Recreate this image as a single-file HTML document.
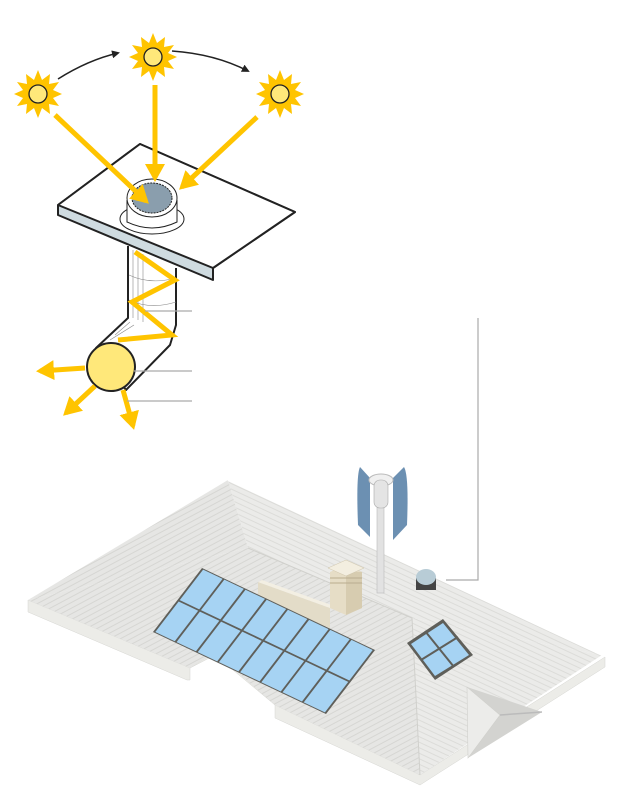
<!DOCTYPE html>
<html><head><meta charset="utf-8"><style>
html,body{margin:0;padding:0;background:#fff;}
svg{display:block;}
</style></head><body>
<svg width="640" height="800" viewBox="0 0 640 800" xmlns="http://www.w3.org/2000/svg">
<defs>
<marker id="ah" markerWidth="8" markerHeight="8" refX="6" refY="4" orient="auto" markerUnits="userSpaceOnUse"><path d="M0,0 L8,4 L0,8 z" fill="#222"/></marker>
<marker id="ya" markerWidth="20" markerHeight="20" refX="14" refY="10" orient="auto" markerUnits="userSpaceOnUse"><path d="M0,0 L18,10 L0,20 z" fill="#ffc400"/></marker>
<pattern id="tiles" width="5" height="5" patternUnits="userSpaceOnUse" patternTransform="rotate(25)"><rect width="5" height="5" fill="#ebebe9"/><rect width="5" height="1" fill="#dcdcd9"/></pattern>
<pattern id="tiles2" width="5" height="5" patternUnits="userSpaceOnUse" patternTransform="rotate(-28)"><rect width="5" height="5" fill="#e6e6e4"/><rect width="5" height="1" fill="#d6d6d3"/></pattern>
<g id="sun">
<polygon points="0,-24 4,-14 12,-20 11,-10 21,-12 15,-4 24,0 15,4 21,12 11,10 12,20 4,14 0,24 -4,14 -12,20 -11,10 -21,12 -15,4 -24,0 -15,-4 -21,-12 -11,-10 -12,-20 -4,-14" fill="#ffc400"/>
<circle r="9" fill="#ffe87a" stroke="#222" stroke-width="1.3"/>
</g>
</defs>

<use href="#sun" x="38" y="94"/>
<use href="#sun" x="153" y="57"/>
<use href="#sun" x="280" y="94"/>
<path d="M58,79 Q88,60 118,53" fill="none" stroke="#222" stroke-width="1.5" marker-end="url(#ah)"/>
<path d="M172,51 Q215,54 248,71" fill="none" stroke="#222" stroke-width="1.5" marker-end="url(#ah)"/>

<polygon points="58,205 140,144 295,212 213,268 213,280 58,215" fill="#cfdbe0" stroke="#222" stroke-width="2" stroke-linejoin="round"/>
<polygon points="58,205 140,144 295,212 213,268" fill="#fff" stroke="#222" stroke-width="2" stroke-linejoin="round"/>
<line x1="213" y1="268" x2="213" y2="280" stroke="#222" stroke-width="1.5"/>
<ellipse cx="152" cy="219" rx="32" ry="15" fill="#fff" stroke="#222" stroke-width="1"/>
<path d="M127,200 L127,222 Q152,234 177,222 L177,200" fill="#fff" stroke="#222" stroke-width="1"/>
<ellipse cx="152" cy="198" rx="25" ry="19" fill="#fff" stroke="#222" stroke-width="1"/>
<ellipse cx="152" cy="198" rx="20" ry="15" fill="#8a9ead" stroke="#222" stroke-width="1" stroke-dasharray="2,1"/>

<path d="M128,246 L128,318 L96,348 L126,390 L170,345 L176,325 L176,268" fill="#fff" stroke="#222" stroke-width="2" stroke-linejoin="round"/>
<g stroke="#888" stroke-width="0.6">
<line x1="133" y1="250" x2="133" y2="318"/><line x1="138" y1="252" x2="138" y2="320"/><line x1="143" y1="254" x2="143" y2="322"/>
<path d="M129,275 Q150,285 176,278" fill="none"/><path d="M129,300 Q150,310 176,302" fill="none"/>
<line x1="115" y1="335" x2="130" y2="322"/><line x1="110" y1="340" x2="134" y2="325"/>
</g>
<polyline points="135,252 175,280 132,302 172,335 118,340" fill="none" stroke="#ffc400" stroke-width="5" stroke-linejoin="miter"/>
<circle cx="111" cy="367" r="24" fill="#ffe87a" stroke="#222" stroke-width="2"/>

<line x1="55" y1="115" x2="146" y2="201" stroke="#ffc400" stroke-width="5" marker-end="url(#ya)"/>
<line x1="155" y1="85" x2="155" y2="178" stroke="#ffc400" stroke-width="5" marker-end="url(#ya)"/>
<line x1="257" y1="117" x2="182" y2="187" stroke="#ffc400" stroke-width="5" marker-end="url(#ya)"/>
<line x1="85" y1="368" x2="40" y2="371" stroke="#ffc400" stroke-width="5" marker-end="url(#ya)"/>
<line x1="95" y1="386" x2="66" y2="413" stroke="#ffc400" stroke-width="5" marker-end="url(#ya)"/>
<line x1="123" y1="390" x2="133" y2="426" stroke="#ffc400" stroke-width="5" marker-end="url(#ya)"/>

<g stroke="#aaa" stroke-width="1.2" fill="none">
<line x1="145" y1="311" x2="192" y2="311"/>
<line x1="134" y1="371" x2="192" y2="371"/>
<line x1="127" y1="401" x2="192" y2="401"/>
<polyline points="478,318 478,580 446,580"/>
</g>

<polygon points="28,600 28,612 187,680 190,680 190,668 215,655 275,705 275,718 420,785 605,667 605,657 420,775 275,705 215,652 190,668" fill="#ecece8" stroke="#d6d6d2" stroke-width="0.5"/>
<polygon points="228,480 602,655 412,618 248,548" fill="url(#tiles)"/>
<polygon points="228,480 248,548 28,600" fill="url(#tiles2)"/>
<polygon points="28,600 248,548 412,618 420,775 275,705 215,652 190,668" fill="url(#tiles2)"/>
<polygon points="412,618 602,655 420,775" fill="url(#tiles)"/>
<polyline points="228,480 602,655" fill="none" stroke="#fff" stroke-width="2"/>
<polyline points="248,548 412,618 420,775" fill="none" stroke="#d0d0cc" stroke-width="1"/>
<polygon points="467,687 542,712 468,758" fill="#d3d3d0"/>
<polygon points="467,687 500,715 468,758" fill="#ececea" stroke="#d0d0cc" stroke-width="0.6"/>
<line x1="500" y1="715" x2="542" y2="712" stroke="#bbb" stroke-width="1.5"/>

<polygon points="258,582 330,608 330,628 258,600" fill="#e3dcc8"/>
<polygon points="258,582 262,580 334,606 330,608" fill="#f3efe3"/>
<polygon points="330,572 346,565 362,572 362,608 346,615 330,608" fill="#e6ddc6"/>
<polygon points="346,572 362,572 362,608 346,615" fill="#d7ccb0"/>
<polygon points="328,568 346,560 364,568 346,576" fill="#f3eee0" stroke="#cfc5ab" stroke-width="0.5"/>
<line x1="330" y1="578" x2="362" y2="578" stroke="#b9ad8f" stroke-width="1"/>
<line x1="330" y1="583" x2="362" y2="583" stroke="#b9ad8f" stroke-width="1"/>

<rect x="377" y="505" width="7" height="88" fill="#e2e2e2" stroke="#bbb" stroke-width="0.6"/>
<path d="M360,467 Q356,475 358,525 L370,537 L370,478 Z" fill="#6c90b2"/>
<path d="M404,467 Q409,475 407,525 L393,540 L393,478 Z" fill="#6c90b2"/>
<ellipse cx="381" cy="480" rx="12" ry="6" fill="#f0f0f0" stroke="#bbb"/>
<rect x="374" y="480" width="14" height="28" rx="6" fill="#e4e4e4" stroke="#aaa" stroke-width="0.6"/>
<rect x="416" y="578" width="20" height="12" fill="#444"/>
<ellipse cx="426" cy="577" rx="10" ry="8" fill="#b8ccd6"/>

<g transform="matrix(0.2163,0.1025,-0.0766,0.1,202,568)">
<rect x="0" y="0" width="800" height="640" fill="#5f5f5a"/>
<g fill="#a6d3f3">
<rect x="8" y="8" width="90" height="305"/><rect x="106" y="8" width="90" height="305"/><rect x="204" y="8" width="90" height="305"/><rect x="302" y="8" width="90" height="305"/><rect x="400" y="8" width="90" height="305"/><rect x="498" y="8" width="90" height="305"/><rect x="596" y="8" width="90" height="305"/><rect x="694" y="8" width="98" height="305"/>
<rect x="8" y="327" width="90" height="305"/><rect x="106" y="327" width="90" height="305"/><rect x="204" y="327" width="90" height="305"/><rect x="302" y="327" width="90" height="305"/><rect x="400" y="327" width="90" height="305"/><rect x="498" y="327" width="90" height="305"/><rect x="596" y="327" width="90" height="305"/><rect x="694" y="327" width="98" height="305"/>
</g>
</g>
<polygon points="443,619 473,655 435,680 407,643" fill="#5f5f5a"/>
<polygon points="443,623 469,655 435,676 411,644" fill="#a6d3f3"/>
<line x1="425" y1="631" x2="454" y2="667" stroke="#5f5f5a" stroke-width="2"/>
<line x1="458" y1="637" x2="421" y2="660" stroke="#5f5f5a" stroke-width="2"/>
</svg>
</body></html>
